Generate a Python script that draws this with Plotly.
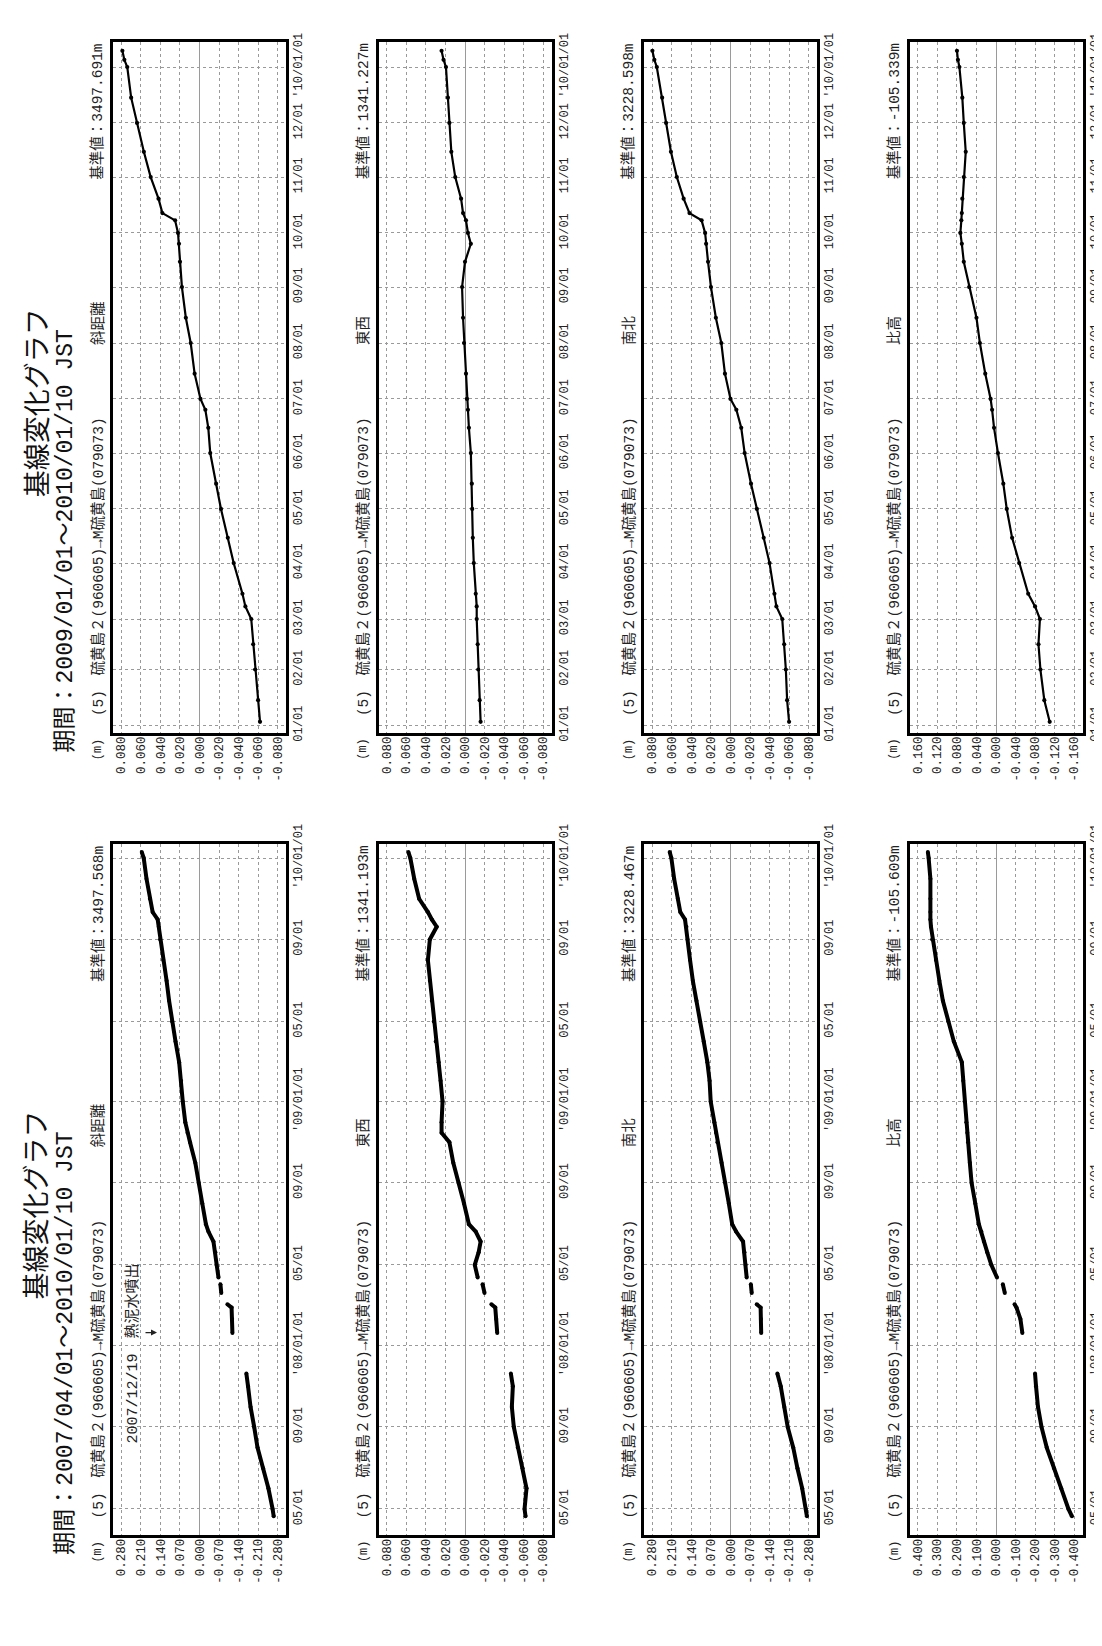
import plotly.graph_objects as go

W, H = 1102, 1646

# ---------------- data ----------------
dates_2009 = ["2009-01-03", "2009-01-15", "2009-02-01", "2009-02-15", "2009-03-01", "2009-03-08",
              "2009-03-15", "2009-04-01", "2009-04-15", "2009-05-01", "2009-05-15", "2009-06-01",
              "2009-06-15", "2009-06-25", "2009-07-01", "2009-07-15", "2009-08-01", "2009-08-15",
              "2009-09-01", "2009-09-15", "2009-09-25", "2009-10-01", "2009-10-08", "2009-10-12",
              "2009-10-20", "2009-11-01", "2009-11-15", "2009-12-01", "2009-12-15", "2010-01-01",
              "2010-01-05", "2010-01-10"]
slope_2009 = [-0.062, -0.060, -0.057, -0.055, -0.053, -0.047, -0.044, -0.035, -0.029, -0.022, -0.017,
              -0.011, -0.009, -0.006, -0.001, 0.005, 0.009, 0.014, 0.018, 0.020, 0.021, 0.022, 0.025,
              0.038, 0.042, 0.050, 0.057, 0.064, 0.070, 0.074, 0.077, 0.079]
ew_2009 = [-0.016, -0.015, -0.0136, -0.013, -0.012, -0.012, -0.011, -0.009, -0.008, -0.0074, -0.007,
           -0.006, -0.004, -0.003, -0.002, -0.001, 0.001, 0.002, 0.003, 0.000, -0.006, -0.003, -0.001,
           0.002, 0.004, 0.010, 0.014, 0.016, 0.0175, 0.0195, 0.022, 0.024]
ns_2009 = [-0.060, -0.058, -0.0567, -0.055, -0.053, -0.047, -0.045, -0.040, -0.034, -0.027, -0.021,
           -0.0145, -0.011, -0.006, 0.000, 0.0057, 0.0094, 0.015, 0.020, 0.023, 0.025, 0.026, 0.0296,
           0.042, 0.048, 0.055, 0.061, 0.066, 0.070, 0.0755, 0.078, 0.080]
up_2009 = [-0.110, -0.099, -0.091, -0.087, -0.090, -0.080, -0.066, -0.0475, -0.033, -0.022, -0.015,
           -0.004, 0.004, 0.008, 0.011, 0.022, 0.033, 0.040, 0.055, 0.066, 0.070, 0.073, 0.071, 0.070,
           0.069, 0.066, 0.062, 0.066, 0.069, 0.075, 0.078, 0.080]

dates_2007 = ["2007-04-20", "2007-05-01", "2007-06-01", "2007-07-01", "2007-08-01", "2007-09-01",
              "2007-10-01", "2007-11-01", "2007-11-20", "2007-12-20",
              "2008-01-20", "2008-02-10", "2008-02-27", "2008-03-03", "2008-03-12",
              "2008-03-20", "2008-04-02", "2008-04-07",
              "2008-04-12", "2008-05-01", "2008-05-20", "2008-06-05", "2008-06-20", "2008-07-01",
              "2008-08-01", "2008-09-01", "2008-10-01", "2008-11-01", "2008-11-15", "2008-12-01",
              "2009-01-01", "2009-02-01", "2009-03-01", "2009-04-01", "2009-05-01", "2009-06-01",
              "2009-07-01", "2009-08-01", "2009-09-01", "2009-09-20", "2009-10-01", "2009-10-12",
              "2009-11-01", "2009-12-01", "2010-01-01", "2010-01-10"]
slope_2007 = [-0.266, -0.262, -0.247, -0.228, -0.208, -0.196, -0.183, -0.174, -0.168, None,
              -0.118, -0.117, -0.115, -0.100, None,
              -0.078, -0.075, None,
              -0.068, -0.061, -0.057, -0.050, -0.032, -0.023, -0.010, 0.003, 0.015, 0.034, 0.043,
              0.051, 0.060, 0.066, 0.073, 0.086, 0.098, 0.109, 0.118, 0.130, 0.141, 0.146, 0.150,
              0.168, 0.178, 0.190, 0.200, 0.207]
ew_2007 = [-0.062, -0.061, -0.063, -0.059, -0.054, -0.050, -0.048, -0.049, -0.047, None,
           -0.033, -0.032, -0.031, -0.027, None,
           -0.020, -0.018, None,
           -0.013, -0.010, -0.014, -0.016, -0.011, -0.004, 0.001, 0.0066, 0.012, 0.016, 0.024, 0.024,
           0.023, 0.025, 0.027, 0.030, 0.032, 0.034, 0.036, 0.038, 0.036, 0.029, 0.034, 0.038, 0.047,
           0.052, 0.056, 0.058]
ns_2007 = [-0.274, -0.270, -0.257, -0.240, -0.225, -0.205, -0.193, -0.180, -0.168, None,
           -0.110, -0.109, -0.108, -0.094, None,
           -0.076, -0.073, None,
           -0.058, -0.054, -0.050, -0.045, -0.020, -0.006, 0.006, 0.019, 0.032, 0.047, 0.052, 0.058,
           0.071, 0.075, 0.083, 0.096, 0.109, 0.122, 0.135, 0.145, 0.154, 0.158, 0.163, 0.180, 0.189,
           0.202, 0.212, 0.218]
up_2007 = [-0.389, -0.371, -0.334, -0.297, -0.260, -0.233, -0.215, -0.205, -0.200, None,
           -0.135, -0.125, -0.105, -0.095, None,
           -0.045, -0.035, None,
           -0.005, 0.024, 0.045, 0.062, 0.075, 0.088, 0.106, 0.125, 0.134, 0.143, 0.147, 0.152,
           0.161, 0.168, 0.175, 0.216, 0.244, 0.272, 0.290, 0.308, 0.327, 0.333, 0.336, 0.336, 0.336,
           0.336, 0.345, 0.349]

components = ["斜距離", "東西", "南北", "比高"]
base_2009 = ["3497.691m", "1341.227m", "3228.598m", "-105.339m"]
base_2007 = ["3497.568m", "1341.193m", "3228.467m", "-105.609m"]

vt_008 = [0.080, 0.060, 0.040, 0.020, 0.000, -0.020, -0.040, -0.060, -0.080]
vt_016 = [0.160, 0.120, 0.080, 0.040, 0.000, -0.040, -0.080, -0.120, -0.160]
vt_028 = [0.280, 0.210, 0.140, 0.070, 0.000, -0.070, -0.140, -0.210, -0.280]
vt_040 = [0.400, 0.300, 0.200, 0.100, 0.000, -0.100, -0.200, -0.300, -0.400]
vticks_2009 = [vt_008, vt_008, vt_008, vt_016]
vticks_2007 = [vt_028, vt_008, vt_028, vt_040]

tt_2009 = ["2009-01-01", "2009-02-01", "2009-03-01", "2009-04-01", "2009-05-01", "2009-06-01",
           "2009-07-01", "2009-08-01", "2009-09-01", "2009-10-01", "2009-11-01", "2009-12-01",
           "2010-01-01"]
tl_2009 = ["01/01", "02/01", "03/01", "04/01", "05/01", "06/01", "07/01", "08/01", "09/01",
           "10/01", "11/01", "12/01", "'10/01/01"]
tt_2007 = ["2007-05-01", "2007-09-01", "2008-01-01", "2008-05-01", "2008-09-01", "2009-01-01",
           "2009-05-01", "2009-09-01", "2010-01-01"]
tl_2007 = ["05/01", "09/01", "'08/01/01", "05/01", "09/01", "'09/01/01", "05/01", "09/01", "'10/01/01"]

range_2009 = ["2008-12-28", "2010-01-15"]
range_2007 = ["2007-03-23", "2010-01-22"]

# ---------------- figure ----------------
MONO = "Liberation Mono, Noto Sans CJK JP, sans-serif"
CJK = "Noto Sans CJK JP, sans-serif"

def px(x):
    return x / W

def py(y):
    return 1 - y / H

fig = go.Figure()
annotations = []
layout = {}

pages = [
    dict(off=0.0, dates=dates_2009, series=[slope_2009, ew_2009, ns_2009, up_2009], base=base_2009,
         vticks=vticks_2009, tt=tt_2009, tl=tl_2009, rng=range_2009, lw=2.2, ms=4.2,
         period="期間：2009/01/01～2010/01/10 JST"),
    dict(off=816.7, dates=dates_2007, series=[slope_2007, ew_2007, ns_2007, up_2007], base=base_2007,
         vticks=vticks_2007, tt=tt_2007, tl=tl_2007, rng=range_2007, lw=4.0, ms=4.0,
         period="期間：2007/04/01～2010/01/10 JST"),
]

k = 0
for p in pages:
    off = p["off"]
    top, bot = 14 + off, 717.3 + off
    for i in range(4):
        k += 1
        x0 = 105 + 265.5 * i
        x1 = x0 + 173
        vt = p["vticks"][i]
        vmax = vt[0]
        pad = 2 * vmax * 8.4 / 156.2
        xa = "x" if k == 1 else f"x{k}"
        ya = "y" if k == 1 else f"y{k}"
        fig.add_trace(go.Scatter(
            x=p["series"][i], y=p["dates"], xaxis=xa, yaxis=ya, mode="lines+markers",
            line=dict(color="black", width=p["lw"]), marker=dict(color="black", size=p["ms"]),
            connectgaps=False, showlegend=False, hoverinfo="skip"))
        layout[f"xaxis{'' if k == 1 else k}"] = dict(
            domain=[px(x0), px(x1)], anchor=ya, range=[vmax + pad, -vmax - pad],
            tickvals=vt, ticktext=[f"{v:.3f}" for v in vt], tickangle=-90, side="bottom",
            tickfont=dict(family=MONO, size=12.5, color="#222"), ticks="", ticklabelstandoff=-4,
            showgrid=True, gridcolor="#9a9a9a", griddash="dot", gridwidth=1,
            zeroline=True, zerolinecolor="#9a9a9a", zerolinewidth=1.2,
            showline=True, mirror=True, linecolor="black", linewidth=2.5, fixedrange=True)
        layout[f"yaxis{'' if k == 1 else k}"] = dict(
            domain=[py(bot), py(top)], anchor=xa, type="date", range=p["rng"],
            tickvals=p["tt"], ticktext=p["tl"], tickangle=-90, side="right",
            tickfont=dict(family=MONO, size=12, color="#222"), ticks="", ticklabelstandoff=-1,
            showgrid=True, gridcolor="#9a9a9a", griddash="dot", gridwidth=1, zeroline=False,
            showline=True, mirror=True, linecolor="black", linewidth=2.5, fixedrange=True)
        # panel title (left of frame, reading upward)
        annotations.append(dict(
            xref="paper", yref="paper", x=px(x0 - 15), y=py(703 + off), xanchor="center",
            yanchor="bottom", textangle=-90, showarrow=False,
            text=f"(5)　硫黄島２(960605)→M硫黄島(079073)　　　　　{components[i]}",
            font=dict(family=MONO, size=14.5, color="#222")))
        annotations.append(dict(
            xref="paper", yref="paper", x=px(x0 - 15), y=py(14 + off), xanchor="center",
            yanchor="top", textangle=-90, showarrow=False,
            text=f"基準値：{p['base'][i]}", font=dict(family=MONO, size=14.5, color="#222")))
        annotations.append(dict(
            xref="paper", yref="paper", x=px(x0 - 15), y=py(721 + off), xanchor="center",
            yanchor="top", textangle=-90, showarrow=False,
            text="(m)", font=dict(family=MONO, size=12, color="#222")))
    # page titles
    annotations.append(dict(
        xref="paper", yref="paper", x=px(27), y=py(382 + off), xanchor="center", yanchor="middle",
        textangle=-90, showarrow=False, text="基線変化グラフ",
        font=dict(family=CJK, size=27, color="#111")))
    annotations.append(dict(
        xref="paper", yref="paper", x=px(58), y=py(740 + off), xanchor="center", yanchor="bottom",
        textangle=-90, showarrow=False, text=p["period"],
        font=dict(family=MONO, size=23, color="#111")))

# event note in the 2007 slope-distance panel
annotations.append(dict(
    xref="paper", yref="paper", x=px(125), y=py(1443), xanchor="center", yanchor="bottom",
    textangle=-90, showarrow=False, text="2007/12/19　熱泥水噴出",
    font=dict(family=MONO, size=15, color="#222")))
annotations.append(dict(
    xref="paper", yref="paper", x=px(149), y=py(1328), ax=-13, ay=0, text="", showarrow=True,
    arrowhead=2, arrowsize=1, arrowwidth=1.2, arrowcolor="#222"))

fig.update_layout(
    width=W, height=H, margin=dict(l=0, r=0, t=0, b=0), paper_bgcolor="white",
    plot_bgcolor="white", annotations=annotations, showlegend=False, **layout)

fig.write_html("out.html")
